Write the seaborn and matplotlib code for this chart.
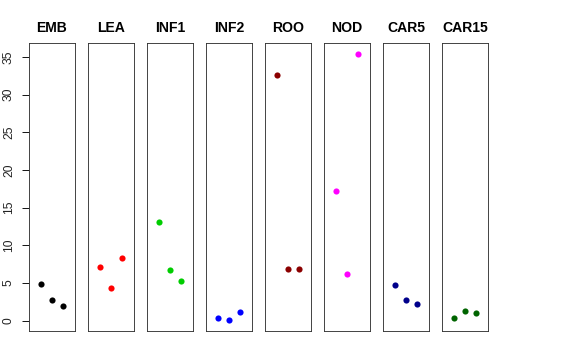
import numpy as np
import pandas as pd
import seaborn as sns
import matplotlib
matplotlib.use("Agg")
import matplotlib.pyplot as plt

# tissue samples, three replicates each
tissues = ['EMB', 'LEA', 'INF1', 'INF2', 'ROO', 'NOD', 'CAR5', 'CAR15']
emb = [4.89, 2.68, 1.93]
lea = [7.06, 4.28, 8.30]
inf1 = [13.12, 6.75, 5.29]
inf2 = [0.29, 0.03, 1.09]
roo = [32.6, 6.88, 6.88]
nod = [17.2, 6.13, 35.43]
car5 = [4.67, 2.68, 2.19]
car15 = [0.37, 1.22, 1.00]
replicate = [1, 2, 3]
colors = ['black', 'red', '#00CD00', 'blue', '#8B0000', 'magenta', '#00008B', '#006400']

series = [emb, lea, inf1, inf2, roo, nod, car5, car15]

sns.set_style("white")
plt.rcParams['font.family'] = ['Liberation Sans', 'DejaVu Sans']
plt.rcParams['text.color'] = 'black'
plt.rcParams['ytick.color'] = 'black'
plt.rcParams['ytick.labelcolor'] = '#222222'

fig, axes = plt.subplots(1, 8, sharey=True, figsize=(8, 5), dpi=72)
fig.subplots_adjust(left=29 / 576, right=488 / 576, top=1 - 43 / 360,
                    bottom=1 - 331 / 360, wspace=0.283)

allv = np.concatenate(series)
lo, hi = allv.min(), allv.max()
pad = 0.04 * (hi - lo)

for i, (ax, name, vals, col) in enumerate(zip(axes, tissues, series, colors)):
    df = pd.DataFrame({'rep': replicate, 'value': vals})
    sns.scatterplot(data=df, x='rep', y='value', ax=ax, color=col, s=38,
                    linewidth=0, legend=False)
    ax.set_xlim(-0.16, 4.16)
    ax.set_ylim(lo - pad, hi + pad)
    ax.set_xticks([])
    ax.set_xlabel('')
    ax.set_ylabel('')
    ax.set_title(name, fontsize=14, fontweight='bold', pad=11, color='black')
    for sp in ax.spines.values():
        sp.set_visible(True)
        sp.set_color('#333333')
        sp.set_linewidth(0.9)
    if i == 0:
        ax.set_yticks(range(0, 36, 5))
        ax.tick_params(axis='y', left=True, length=7, width=0.9, pad=7,
                       labelsize=12, labelrotation=90)
        for lab in ax.get_yticklabels():
            lab.set_va('center')
    else:
        ax.tick_params(axis='y', left=False)

fig.savefig('out.png', dpi=72)
